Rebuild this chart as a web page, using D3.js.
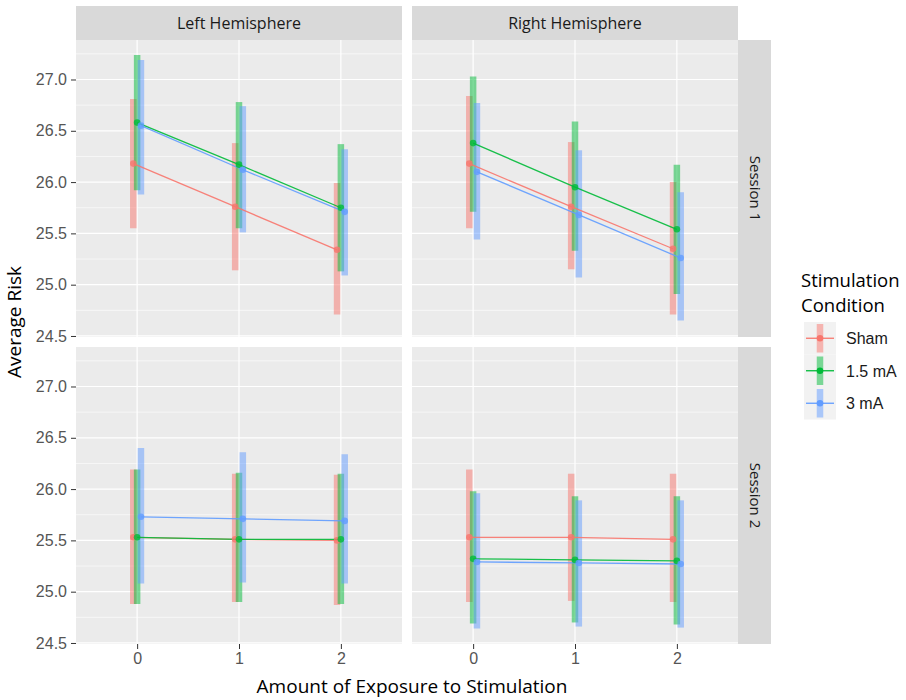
<!DOCTYPE html>
<html>
<head>
<meta charset="utf-8">
<script src="https://cdn.jsdelivr.net/npm/d3@7"></script>
<style>
  body { margin: 0; background: #fff; }
</style>
</head>
<body>
<div id="chart"></div>
<script>
/* Average Risk by exposure, stimulation condition, hemisphere and session
   ggplot-style facet grid: columns = hemisphere, rows = session */

const exposure    = [0, 1, 2];
const conditions  = ["Sham", "1.5 mA", "3 mA"];
const colors      = ["#F8766D", "#00BA38", "#619CFF"];
const hemispheres = ["Left Hemisphere", "Right Hemisphere"];
const sessions    = ["Session 1", "Session 2"];
const yTicks      = [24.5, 25.0, 25.5, 26.0, 26.5, 27.0];

// each array: one row per condition (Sham, 1.5 mA, 3 mA), one value per exposure 0,1,2
const s1LeftMean  = [[26.18, 25.76, 25.34], [26.58, 26.17, 25.75], [26.55, 26.12, 25.71]];
const s1LeftLow   = [[25.55, 25.14, 24.71], [25.92, 25.55, 25.13], [25.88, 25.51, 25.09]];
const s1LeftHigh  = [[26.81, 26.38, 25.99], [27.24, 26.78, 26.37], [27.19, 26.74, 26.32]];

const s1RightMean = [[26.18, 25.76, 25.35], [26.38, 25.95, 25.54], [26.10, 25.68, 25.26]];
const s1RightLow  = [[25.55, 25.15, 24.71], [25.71, 25.33, 24.91], [25.44, 25.07, 24.65]];
const s1RightHigh = [[26.84, 26.39, 26.00], [27.03, 26.59, 26.17], [26.77, 26.31, 25.90]];

const s2LeftMean  = [[25.53, 25.51, 25.50], [25.53, 25.51, 25.51], [25.73, 25.71, 25.69]];
const s2LeftLow   = [[24.88, 24.90, 24.87], [24.88, 24.90, 24.88], [25.08, 25.09, 25.08]];
const s2LeftHigh  = [[26.19, 26.15, 26.14], [26.19, 26.16, 26.15], [26.40, 26.36, 26.34]];

const s2RightMean = [[25.53, 25.53, 25.51], [25.32, 25.31, 25.30], [25.29, 25.28, 25.27]];
const s2RightLow  = [[24.90, 24.91, 24.90], [24.69, 24.70, 24.68], [24.64, 24.66, 24.65]];
const s2RightHigh = [[26.19, 26.15, 26.15], [25.98, 25.93, 25.93], [25.96, 25.89, 25.89]];

const panels = [
  { row: 0, col: 0, mean: s1LeftMean,  low: s1LeftLow,  high: s1LeftHigh },
  { row: 0, col: 1, mean: s1RightMean, low: s1RightLow, high: s1RightHigh },
  { row: 1, col: 0, mean: s2LeftMean,  low: s2LeftLow,  high: s2LeftHigh },
  { row: 1, col: 1, mean: s2RightMean, low: s2RightLow, high: s2RightHigh }
];

const W = 906, H = 700;
const PX = [76, 412], PY = [40, 347];
const PW = 326, PH = 297;
const DODGE = 0.075;
const FONT = "'Open Sans', sans-serif";
const TICKFONT = "'Liberation Sans', Arial, sans-serif";

const svg = d3.select("#chart").append("svg")
  .attr("width", W).attr("height", H)
  .attr("viewBox", `0 0 ${W} ${H}`);

const x = d3.scaleLinear().domain([-0.6, 2.6]).range([0, PW]);
const y = d3.scaleLinear().domain([24.49, 27.385]).range([PH, 0]);
const color = d3.scaleOrdinal().domain(conditions).range(colors);

panels.forEach(p => {
  const g = svg.append("g").attr("transform", `translate(${PX[p.col]},${PY[p.row]})`);

  g.append("rect").attr("width", PW).attr("height", PH).attr("fill", "#EBEBEB");

  // minor + major gridlines
  g.selectAll(".minor").data(yTicks.map(v => v + 0.25)).join("line")
    .attr("x1", 0).attr("x2", PW).attr("y1", d => y(d)).attr("y2", d => y(d))
    .attr("stroke", "#fff").attr("stroke-width", 0.6);
  g.selectAll(".hmajor").data(yTicks).join("line")
    .attr("x1", 0).attr("x2", PW).attr("y1", d => y(d)).attr("y2", d => y(d))
    .attr("stroke", "#fff").attr("stroke-width", 1.2);
  g.selectAll(".vmajor").data(exposure).join("line")
    .attr("y1", 0).attr("y2", PH).attr("x1", d => x(d)).attr("x2", d => x(d))
    .attr("stroke", "#fff").attr("stroke-width", 1.2);

  const rows = conditions.map((c, ci) => exposure.map((e, ei) => ({
    c, x: e + (ci - 1) * DODGE / 2,
    m: p.mean[ci][ei], lo: p.low[ci][ei], hi: p.high[ci][ei]
  })));

  // thick CI bars
  rows.forEach(series => {
    g.selectAll(null).data(series).join("line")
      .attr("x1", d => x(d.x)).attr("x2", d => x(d.x))
      .attr("y1", d => y(d.lo)).attr("y2", d => y(d.hi))
      .attr("stroke", d => color(d.c)).attr("stroke-width", 6.5)
      .attr("stroke-opacity", 0.5);
  });

  const line = d3.line().x(d => x(d.x)).y(d => y(d.m));
  rows.forEach(series => {
    g.append("path").datum(series)
      .attr("fill", "none").attr("stroke", color(series[0].c))
      .attr("stroke-width", 1.3).attr("stroke-opacity", 0.9)
      .attr("d", line);
  });

  rows.forEach(series => {
    g.selectAll(null).data(series).join("circle")
      .attr("cx", d => x(d.x)).attr("cy", d => y(d.m)).attr("r", 3.3)
      .attr("fill", d => color(d.c)).attr("fill-opacity", 0.8);
  });

  // y axis on left column
  if (p.col === 0) {
    g.append("g")
      .call(d3.axisLeft(y).tickValues(yTicks).tickFormat(d3.format(".1f")).tickSize(5).tickPadding(4))
      .call(a => a.select(".domain").remove())
      .call(a => a.selectAll(".tick line").attr("stroke", "#333"))
      .call(a => a.selectAll("text").attr("fill", "#555").attr("font-size", 16)
        .attr("font-family", TICKFONT));
  }

  // x axis on bottom row
  if (p.row === 1) {
    g.append("g").attr("transform", `translate(0,${PH})`)
      .call(d3.axisBottom(x).tickValues(exposure).tickFormat(d3.format("d")).tickSize(5).tickPadding(4))
      .call(a => a.select(".domain").remove())
      .call(a => a.selectAll(".tick line").attr("stroke", "#333"))
      .call(a => a.selectAll("text").attr("fill", "#555").attr("font-size", 16)
        .attr("font-family", TICKFONT));
  }
});

// column strips
hemispheres.forEach((h, i) => {
  svg.append("rect").attr("x", PX[i]).attr("y", 6).attr("width", PW).attr("height", 34)
    .attr("fill", "#D9D9D9");
  svg.append("text").attr("x", PX[i] + PW / 2).attr("y", 29)
    .attr("text-anchor", "middle").attr("font-family", FONT).attr("font-size", 16)
    .attr("fill", "#1A1A1A").text(h);
});

// row strips
sessions.forEach((s, i) => {
  const cx = PX[1] + PW + 17, cy = PY[i] + PH / 2;
  svg.append("rect").attr("x", PX[1] + PW).attr("y", PY[i]).attr("width", 33).attr("height", PH)
    .attr("fill", "#D9D9D9");
  svg.append("text").attr("transform", `translate(${cx},${cy}) rotate(90)`)
    .attr("text-anchor", "middle").attr("dy", "0.35em")
    .attr("font-family", FONT).attr("font-size", 15).attr("fill", "#1A1A1A").text(s);
});

// axis titles
svg.append("text").attr("x", 412).attr("y", 693).attr("text-anchor", "middle")
  .attr("font-family", FONT).attr("font-size", 19).attr("fill", "#000")
  .text("Amount of Exposure to Stimulation");

svg.append("text").attr("transform", "translate(21,322) rotate(-90)")
  .attr("text-anchor", "middle")
  .attr("font-family", FONT).attr("font-size", 19).attr("fill", "#000")
  .text("Average Risk");

// legend
const lg = svg.append("g").attr("transform", "translate(801,0)");
lg.append("text").attr("x", 0).attr("y", 287).attr("font-family", FONT).attr("font-size", 18.5)
  .attr("fill", "#000").text("Stimulation");
lg.append("text").attr("x", 0).attr("y", 312).attr("font-family", FONT).attr("font-size", 18.5)
  .attr("fill", "#000").text("Condition");

const KEY = 32.5, KX = 3, KY = 322;
conditions.forEach((c, i) => {
  const ky = KY + i * KEY, mid = ky + KEY / 2;
  lg.append("rect").attr("x", KX).attr("y", ky).attr("width", 32).attr("height", KEY)
    .attr("fill", "#F2F2F2");
  lg.append("line").attr("x1", KX + 16).attr("x2", KX + 16).attr("y1", ky + 2).attr("y2", ky + KEY - 2)
    .attr("stroke", color(c)).attr("stroke-width", 6.5).attr("stroke-opacity", 0.5);
  lg.append("line").attr("x1", KX + 2).attr("x2", KX + 30).attr("y1", mid).attr("y2", mid)
    .attr("stroke", color(c)).attr("stroke-width", 1.3);
  lg.append("circle").attr("cx", KX + 16).attr("cy", mid).attr("r", 3.3)
    .attr("fill", color(c));
  lg.append("text").attr("x", 45).attr("y", mid + 6)
    .attr("font-family", TICKFONT).attr("font-size", 16).attr("fill", "#1A1A1A").text(c);
});
</script>
</body>
</html>
